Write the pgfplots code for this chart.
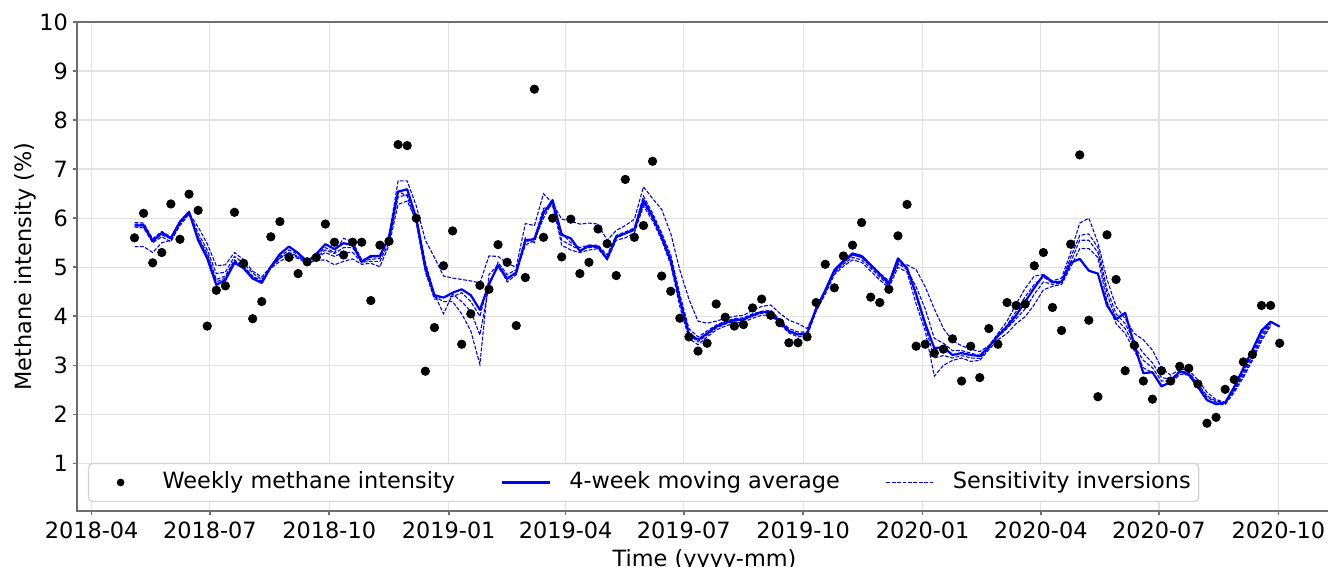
\documentclass[border=0pt]{standalone}
\usepackage{fontspec}
\setmainfont{DejaVu Sans}
\usepackage{pgfplots}
\usepackage{pgfplotstable}
\pgfplotsset{compat=1.18}
\usetikzlibrary{calc}

\pgfplotstableread{
day pt main d1 d2 d3 d4
33 5.60 5.85 5.91 5.42 5.88 5.82
40 6.10 5.85 5.90 5.42 5.87 5.80
47 5.09 5.53 5.58 5.30 5.55 5.50
54 5.30 5.70 5.73 5.50 5.66 5.62
61 6.29 5.59 5.62 5.55 5.58 5.52
68 5.57 5.93 5.93 5.85 5.92 5.88
75 6.49 6.13 6.10 6.08 6.12 6.10
82 6.16 5.55 5.82 5.62 5.70 5.60
89 3.80 5.18 5.48 5.28 5.35 5.22
96 4.53 4.64 5.03 4.75 4.87 4.70
103 4.62 4.74 5.05 4.82 4.90 4.78
110 6.12 5.09 5.30 5.15 5.22 5.12
117 5.08 4.98 5.15 5.00 5.08 5.02
124 3.95 4.77 4.92 4.80 4.88 4.82
131 4.30 4.68 4.80 4.70 4.75 4.72
138 5.62 5.01 5.02 4.98 5.00 5.00
145 5.93 5.27 5.22 5.12 5.18 5.20
152 5.20 5.42 5.35 5.22 5.30 5.28
159 4.87 5.29 5.26 5.18 5.22 5.20
166 5.11 5.11 5.15 5.08 5.10 5.12
173 5.20 5.27 5.24 5.14 5.18 5.20
180 5.88 5.47 5.40 5.15 5.30 5.35
187 5.51 5.37 5.30 5.05 5.22 5.28
194 5.25 5.49 5.59 5.12 5.30 5.40
201 5.51 5.45 5.52 5.17 5.30 5.40
208 5.51 5.11 5.15 5.06 5.10 5.12
215 4.32 5.23 5.20 5.08 5.12 5.16
222 5.45 5.23 5.22 5.01 5.12 5.18
229 5.53 5.62 5.65 5.45 5.50 5.58
236 7.50 6.54 6.76 6.28 6.43 6.55
243 7.48 6.59 6.76 6.35 6.48 6.45
250 6.00 6.00 6.25 5.95 6.05 5.90
257 2.88 5.01 5.55 4.95 5.10 4.90
264 3.77 4.43 5.20 4.40 4.45 4.35
271 5.03 4.38 4.82 4.30 4.05 4.40
278 5.74 4.48 4.78 4.30 4.45 4.40
285 3.43 4.55 4.75 4.05 4.30 4.48
292 4.05 4.43 4.72 3.70 4.10 4.30
299 4.63 4.13 4.68 3.02 3.62 4.00
306 4.55 4.65 5.23 4.85 4.62 4.70
313 5.46 5.04 5.22 5.05 5.10 5.00
320 5.10 4.77 5.08 4.70 4.85 4.75
327 3.81 4.89 5.00 4.85 4.95 4.90
334 4.79 5.55 5.89 5.60 5.50 5.45
341 8.63 5.57 5.85 5.50 5.60 5.55
348 5.61 6.10 6.50 6.15 6.20 6.00
355 6.00 6.37 6.30 6.30 6.25 6.35
362 5.21 5.66 5.98 5.45 5.55 5.70
369 5.98 5.59 5.94 5.35 5.45 5.50
376 4.87 5.33 5.88 5.30 5.35 5.40
383 5.10 5.44 5.90 5.35 5.40 5.45
390 5.78 5.42 5.88 5.38 5.40 5.45
397 5.48 5.17 5.55 5.15 5.20 5.25
404 4.83 5.62 5.75 5.55 5.60 5.65
411 6.79 5.69 5.85 5.60 5.68 5.72
418 5.61 5.77 5.98 5.70 5.75 5.80
425 5.85 6.37 6.64 6.25 6.30 6.45
432 7.16 6.03 6.40 5.95 6.00 6.10
439 4.82 5.62 6.18 5.55 5.60 5.70
446 4.51 5.15 5.69 5.05 5.10 5.25
453 3.96 4.33 4.94 4.20 4.30 4.45
460 3.58 3.65 4.35 3.55 3.62 3.75
467 3.29 3.52 3.90 3.42 3.48 3.58
474 3.45 3.65 3.86 3.58 3.62 3.70
481 4.25 3.79 3.90 3.72 3.76 3.82
488 3.98 3.87 3.96 3.80 3.84 3.90
495 3.80 3.92 4.00 3.86 3.90 3.95
502 3.83 3.94 4.02 3.88 3.92 3.97
509 4.17 4.02 4.12 3.96 4.00 4.05
516 4.35 4.09 4.20 4.02 4.06 4.10
523 4.02 4.09 4.23 4.03 4.07 4.12
530 3.87 3.89 4.06 3.84 3.87 3.93
537 3.46 3.70 3.92 3.66 3.69 3.75
544 3.46 3.63 3.85 3.58 3.62 3.68
551 3.58 3.65 3.75 3.60 3.63 3.68
558 4.28 4.16 4.12 4.10 4.14 4.18
565 5.06 4.53 4.50 4.45 4.50 4.52
572 4.58 4.94 4.90 4.85 4.88 4.92
579 5.23 5.13 5.10 5.02 5.06 5.10
586 5.45 5.28 5.25 5.15 5.20 5.25
593 5.91 5.23 5.20 5.10 5.15 5.20
600 4.39 5.05 5.05 4.92 4.98 5.02
607 4.28 4.86 4.88 4.74 4.80 4.84
614 4.55 4.67 4.72 4.58 4.62 4.66
621 5.64 5.18 5.05 5.00 5.08 5.12
628 6.28 4.98 5.05 4.90 4.95 5.00
635 3.39 4.45 4.95 4.25 4.60 4.40
642 3.43 3.85 4.60 3.70 4.15 3.80
649 3.25 3.35 4.15 2.78 3.55 3.15
656 3.33 3.37 3.75 3.00 3.45 3.20
663 3.54 3.21 3.50 3.10 3.30 3.15
670 2.68 3.25 3.40 3.15 3.30 3.20
677 3.39 3.21 3.33 3.08 3.25 3.15
684 2.75 3.19 3.28 3.10 3.20 3.14
691 3.75 3.38 3.40 3.32 3.38 3.35
698 3.43 3.60 3.65 3.52 3.58 3.62
705 4.28 3.79 3.90 3.65 3.75 3.82
712 4.22 4.02 4.25 3.85 3.95 4.10
719 4.25 4.30 4.57 3.99 4.15 4.40
726 5.03 4.58 4.82 4.24 4.45 4.65
733 5.30 4.84 4.85 4.54 4.70 4.80
740 4.18 4.70 4.72 4.61 4.65 4.68
747 3.71 4.70 4.78 4.65 4.68 4.72
754 5.47 5.09 5.30 5.00 5.10 5.20
761 7.29 5.17 5.90 5.38 5.55 5.65
768 3.92 4.93 6.00 5.38 5.55 5.68
775 2.36 4.87 5.50 5.20 5.30 5.40
782 5.66 4.22 4.75 4.30 4.45 4.55
789 4.75 3.94 4.20 3.85 3.95 4.05
796 2.89 4.07 3.95 3.65 3.75 3.85
803 3.41 3.42 3.65 3.30 3.40 3.50
810 2.68 2.84 3.52 2.95 3.10 3.25
817 2.31 2.86 3.31 2.85 2.95 3.05
824 2.89 2.57 2.94 2.60 2.68 2.75
831 2.68 2.66 2.80 2.62 2.68 2.72
838 2.98 2.88 2.92 2.82 2.86 2.88
845 2.94 2.81 2.90 2.80 2.84 2.86
852 2.62 2.56 2.70 2.55 2.60 2.62
859 1.82 2.29 2.45 2.30 2.35 2.38
866 1.94 2.21 2.30 2.20 2.25 2.27
873 2.51 2.24 2.25 2.20 2.22 2.24
880 2.71 2.56 2.48 2.45 2.50 2.52
887 3.07 2.94 2.80 2.75 2.85 2.88
894 3.22 3.31 3.15 3.10 3.20 3.25
901 4.22 3.71 3.55 3.50 3.60 3.65
908 4.22 3.89 3.82 3.80 3.85 3.87
915 3.45 3.79 nan nan nan nan
}\data

\definecolor{spine}{RGB}{110,110,110}
\definecolor{gridc}{RGB}{226,226,226}

\begin{document}
\fontsize{11.2}{13.4}\selectfont
\begin{tikzpicture}
\begin{axis}[
  name=ax,
  scale only axis,
  width=627.5pt, height=244.5pt,
  xmin=-11.3, xmax=955.3, ymin=0.03, ymax=10,
  xtick={0,91,183,275,365,456,548,640,731,822,914},
  xticklabels={2018-04,2018-07,2018-10,2019-01,2019-04,2019-07,2019-10,2020-01,2020-04,2020-07,2020-10},
  ytick={1,2,3,4,5,6,7,8,9,10},
  grid=major,
  major grid style={color=gridc, line width=0.65pt},
  axis line style={color=spine, line width=0.9pt},
  tick style={color=spine, line width=0.8pt},
  tick align=outside,
  major tick length=2pt,
  tick pos=left,
  /pgf/number format/assume math mode=true,
  ticklabel style={font=\fontsize{11.2}{13.4}\selectfont, text=black},
  xticklabel style={inner sep=0pt, anchor=north},
  xticklabel shift=3pt,
  yticklabel style={inner sep=0pt, anchor=east},
  yticklabel shift=2.35pt,
  xlabel={Time (yyyy-mm)},
  ylabel={Methane intensity (\%)},
  every axis x label/.style={at={(axis description cs:0.5,-0.0769)}, anchor=north, inner sep=0pt},
  every axis y label/.style={at={(axis description cs:-0.0319,0.5)}, rotate=90, anchor=south, inner sep=0pt},
  legend columns=3,
  legend cell align=left,
  legend image code/.code={\path[draw=none, fill=none, rounded corners=0pt] (0pt,-0.5pt) rectangle (24pt,0.5pt);\draw[mark repeat=2,mark phase=2,#1] plot coordinates {(0pt,0pt) (12pt,0pt) (24pt,0pt)};},
  legend style={at={(axis description cs:0,0)}, anchor=south west, xshift=5.5pt, yshift=4.5pt,
    draw=gray!35, line width=0.6pt, rounded corners=2pt, fill=white,
    inner xsep=4pt, inner ysep=4pt,
    font=\fontsize{11.2}{13.4}\selectfont,
    nodes={inner sep=0pt, text height=8.3pt, text depth=2.6pt},
    /tikz/every odd column/.append style={column sep=9pt},
    /tikz/every even column/.append style={column sep=23pt}},
]
\addlegendimage{only marks, mark=*, mark size=1.6pt, black}
\addlegendentry{Weekly methane intensity}
\addlegendimage{blue, line width=1.1pt, rounded corners=0pt}
\addlegendentry{4-week moving average}
\addlegendimage{blue, line width=0.55pt, rounded corners=0pt, dash pattern=on 1.9pt off 0.8pt}
\addlegendentry{Sensitivity inversions}

\addplot[blue, line width=0.55pt, dash pattern=on 1.9pt off 0.8pt, forget plot] table[x=day, y=d1]{\data};
\addplot[blue, line width=0.55pt, dash pattern=on 1.9pt off 0.8pt, forget plot] table[x=day, y=d2]{\data};
\addplot[blue, line width=0.55pt, dash pattern=on 1.9pt off 0.8pt, forget plot] table[x=day, y=d3]{\data};
\addplot[blue, line width=0.55pt, dash pattern=on 1.9pt off 0.8pt, forget plot] table[x=day, y=d4]{\data};
\addplot[blue, line width=1.1pt, line join=round, forget plot] table[x=day, y=main]{\data};
\addplot[only marks, mark=*, mark size=2.1pt, black, forget plot] table[x=day, y=pt]{\data};
\end{axis}
\pgfresetboundingbox
\path[use as bounding box] ($(ax.south west)+(-38.5pt,-28pt)$) rectangle ($(ax.north east)+(-2pt,11pt)$);
\end{tikzpicture}
\end{document}
